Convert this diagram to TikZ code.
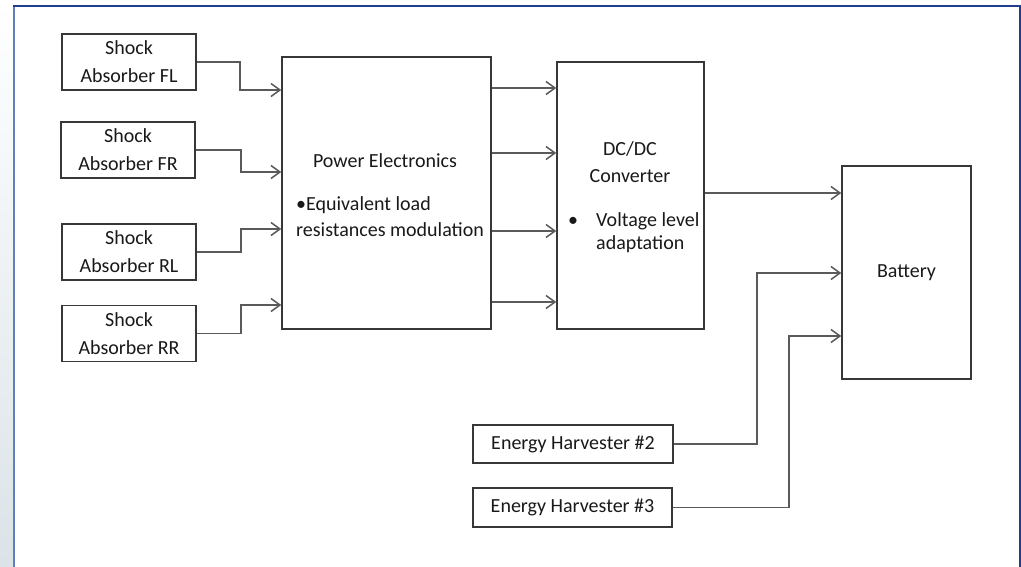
\documentclass[tikz,border=0pt]{standalone}
\usepackage{fontspec}
\setmainfont{Carlito}
\usepackage{xcolor}
\usepackage{tikz}
\usetikzlibrary{arrows.meta}

\definecolor{framedark}{RGB}{31,63,140}
\definecolor{framelight}{RGB}{95,127,191}
\definecolor{stripbot}{RGB}{219,227,232}
\definecolor{linegray}{RGB}{90,90,90}
\definecolor{boxgray}{RGB}{55,55,55}
\definecolor{txtgray}{RGB}{25,25,25}

\begin{document}
\begin{tikzpicture}[x=1pt, y=-1pt,
  box/.style={draw=boxgray, line width=1.5pt, inner sep=0pt, align=center,
              text=txtgray, font=\fontsize{20}{28}\selectfont},
  txt/.style={inner sep=0pt, text=txtgray, font=\fontsize{20}{26}\selectfont},
  arr/.style={-{Straight Barb[length=9pt,width=13pt]}, draw=linegray, line width=1.5pt},
]
% slide background and frame
\useasboundingbox (0,0) rectangle (1021,567);
\fill[white] (0,0) rectangle (1021,567);
\shade[top color=white, bottom color=stripbot] (0,0) rectangle (14,567);
\draw[framelight, line width=2pt] (14,567) -- (14,6);
\draw[framedark, line width=2pt] (13,6) -- (1019.5,6) -- (1019.5,567);

% shock absorbers
\node[box, minimum width=134, minimum height=56] (fl) at (129,62) {Shock\\Absorber FL};
\node[box, minimum width=134, minimum height=56] (fr) at (128,150) {Shock\\Absorber FR};
\node[box, minimum width=134, minimum height=56] (rl) at (129,252) {Shock\\Absorber RL};
\node[box, minimum width=134, minimum height=56] (rr) at (129,333.5) {Shock\\Absorber RR};

% power electronics
\node[box, minimum width=209, minimum height=272] (pe) at (386.5,193) {};
\node[txt] (petitle) at (385,161) {Power Electronics};
\node[txt, anchor=west, align=left] (penote) at (296,217)
     {•Equivalent load\\resistances modulation};

% dc/dc converter
\node[box, minimum width=147, minimum height=267] (dc) at (630.5,195.5) {};
\node[txt, align=center, font=\fontsize{20}{27}\selectfont] (dctitle) at (630,162.5)
     {DC/DC\\Converter};
\node[txt] (dcdot) at (573,222) {•};
\node[txt, anchor=west, align=left, font=\fontsize{20}{23}\selectfont] (dcnote) at (596,233)
     {Voltage level\\adaptation};

% battery and harvesters
\node[box, minimum width=129, minimum height=213] (bat) at (906.5,272.5) {Battery};
\node[box, minimum width=200, minimum height=38] (eh2) at (573,444) {Energy Harvester \#2};
\node[box, minimum width=199, minimum height=39] (eh3) at (572.5,507.5) {Energy Harvester \#3};

% connectors
\draw[arr] (fl.east) -- ++(43,0) |- (pe.west |- 0,90);
\draw[arr] (fr.east) -- ++(45,0) |- (pe.west |- 0,172);
\draw[arr] (rl.east) -- ++(44,0) |- (pe.west |- 0,229);
\draw[arr] (rr.east) -- ++(44,0) |- (pe.west |- 0,305);

\draw[arr] (pe.east |- 0,88) -- (dc.west |- 0,88);
\draw[arr] (pe.east |- 0,153) -- (dc.west |- 0,153);
\draw[arr] (pe.east |- 0,231) -- (dc.west |- 0,231);
\draw[arr] (pe.east |- 0,302) -- (dc.west |- 0,302);

\draw[arr] (dc.east |- 0,193) -- (bat.west |- 0,193);
\draw[arr] (eh2.east) -| (757,273) -- (bat.west |- 0,273);
\draw[arr] (eh3.east) -| (789,336) -- (bat.west |- 0,336);
\end{tikzpicture}
\end{document}
